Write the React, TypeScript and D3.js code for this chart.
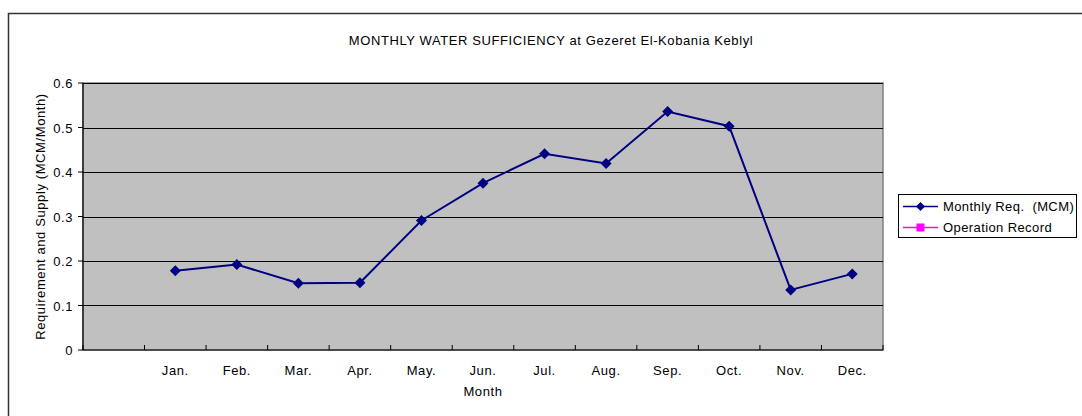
import React from "react";
import * as d3 from "d3";

// first slot on the category axis is left blank in the original sheet
const categories = ["", "Jan.", "Feb.", "Mar.", "Apr.", "May.", "Jun.", "Jul.", "Aug.", "Sep.", "Oct.", "Nov.", "Dec."];
const months = categories.slice(1);
const monthlyReq = [0.178, 0.192, 0.15, 0.151, 0.291, 0.375, 0.441, 0.419, 0.536, 0.503, 0.135, 0.171];
const yTicks = [0, 0.1, 0.2, 0.3, 0.4, 0.5, 0.6];
const seriesNames = ["Monthly Req.  (MCM)", "Operation Record"];

const W = 1082;
const H = 416;
const left = 83;
const right = 883;
const top = 83;
const bottom = 350;
const font = "'Liberation Sans', Arial, sans-serif";
const ls = 0.6;

function App() {
  const x = d3.scaleBand<string>().domain(categories).range([left, right]).padding(0);
  const y = d3.scaleLinear().domain([0, 0.6]).range([bottom, top]);

  const line = d3
    .line<number>()
    .x((d, i) => x(months[i])! + x.bandwidth() / 2)
    .y(d => y(d));

  const diamond = (cx: number, cy: number, r: number) =>
    `M${cx},${cy - r}L${cx + r},${cy}L${cx},${cy + r}L${cx - r},${cy}Z`;

  const boundaries = categories.map(c => x(c)!).concat([right]);

  return (
    <svg width={W} height={H} style={{ position: "absolute", left: 0, top: 0 }} fontFamily={font} fontSize={13} letterSpacing={ls}>
      <rect width={W} height={H} fill="#fff" />
      {/* outer chart border */}
      <path d={`M8.5,${H + 5}V13.5H${W + 5}`} fill="none" stroke="#333" strokeWidth={1.5} />

      <text x={551} y={45} textAnchor="middle" fill="#000">
        MONTHLY WATER SUFFICIENCY at Gezeret El-Kobania Keblyl
      </text>

      {/* plot area */}
      <rect x={left} y={top} width={right - left} height={bottom - top} fill="#c0c0c0" stroke="#808080" strokeWidth={1.5} />
      {yTicks.slice(1).map(t => (
        <line key={t} x1={left} x2={right} y1={Math.round(y(t)) + 0.5} y2={Math.round(y(t)) + 0.5} stroke="#000" strokeWidth={1} />
      ))}
      <line x1={left} x2={left} y1={top} y2={bottom} stroke="#000" strokeWidth={1.2} />
      <line x1={left} x2={right} y1={bottom} y2={bottom} stroke="#000" strokeWidth={1.2} />

      {yTicks.map(t => (
        <g key={t}>
          <line x1={left - 5} x2={left} y1={y(t)} y2={y(t)} stroke="#000" />
          <text x={73} y={y(t) + 5} textAnchor="end" fill="#000">
            {t}
          </text>
        </g>
      ))}

      {boundaries.map((b, i) => (
        <line key={i} x1={b} x2={b} y1={bottom - 5} y2={bottom} stroke="#000" />
      ))}
      {months.map(m => (
        <text key={m} x={x(m)! + x.bandwidth() / 2} y={375} textAnchor="middle" fill="#000">
          {m}
        </text>
      ))}
      <text x={483} y={396} textAnchor="middle" fill="#000">
        Month
      </text>
      <text transform={`translate(45,${(top + bottom) / 2}) rotate(-90)`} textAnchor="middle" fill="#000">
        Requirement and Supply (MCM/Month)
      </text>

      <path d={line(monthlyReq) || ""} fill="none" stroke="#000080" strokeWidth={2} />
      {monthlyReq.map((v, i) => (
        <path key={i} d={diamond(x(months[i])! + x.bandwidth() / 2, y(v), 5.5)} fill="#000080" />
      ))}

      {/* legend */}
      <rect x={898.5} y={194.5} width={178} height={43} fill="#fff" stroke="#000" />
      <line x1={903} x2={938} y1={206.5} y2={206.5} stroke="#000080" strokeWidth={1.5} />
      <path d={diamond(920.5, 206.5, 4.5)} fill="#000080" />
      <text x={943} y={211} fill="#000" style={{ whiteSpace: "pre" }} letterSpacing={0.4}>
        {seriesNames[0]}
      </text>
      <line x1={903} x2={938} y1={227.5} y2={227.5} stroke="#ff00ff" strokeWidth={1.5} />
      <rect x={916.5} y={223.5} width={8} height={8} fill="#ff00ff" />
      <text x={943} y={232} fill="#000" letterSpacing={0.4}>
        {seriesNames[1]}
      </text>
    </svg>
  );
}

export default App;
